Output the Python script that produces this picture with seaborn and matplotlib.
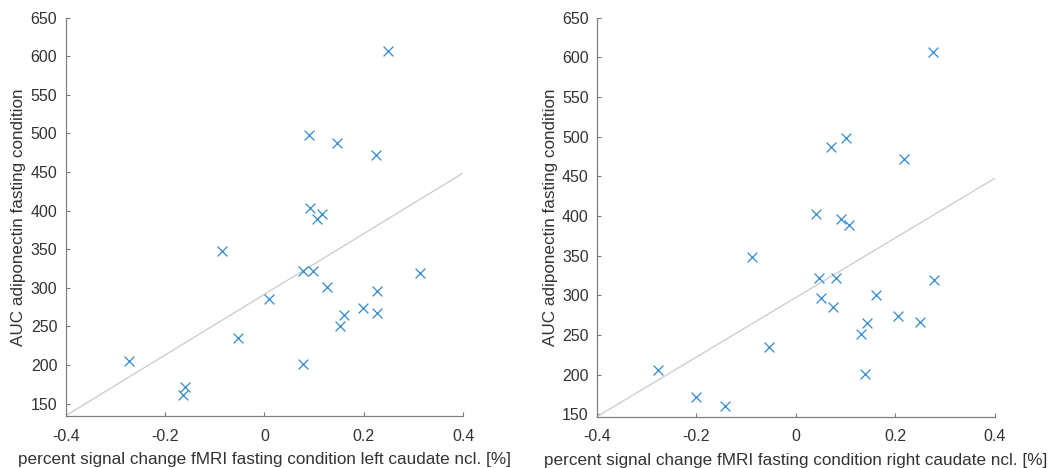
import numpy as np
import pandas as pd
import matplotlib
matplotlib.use("Agg")
import matplotlib.pyplot as plt
import seaborn as sns

# AUC adiponectin, fasting condition (same subjects in both panels)
auc_adiponectin = [607, 498, 487, 471.5, 403, 396, 389, 348, 321.5, 322, 319.5, 301,
                   296.5, 285.5, 273.5, 267, 265, 251, 234.5, 205.5, 201.5, 171.5, 161]

# percent signal change, left / right caudate ncl.
psc_left = [0.249, 0.090, 0.1465, 0.225, 0.0915, 0.1166, 0.1066, -0.085, 0.0768, 0.098,
            0.3135, 0.126, 0.2258, 0.010, 0.198, 0.2265, 0.1595, 0.1528, -0.0536,
            -0.272, 0.0785, -0.159, -0.164]
psc_right = [0.275, 0.101, 0.071, 0.217, 0.0415, 0.091, 0.107, -0.0878, 0.0476, 0.080,
             0.278, 0.1608, 0.051, 0.0757, 0.205, 0.2506, 0.1434, 0.1313, -0.0536,
             -0.278, 0.140, -0.201, -0.142]

x_ticks = [-0.4, -0.2, 0, 0.2, 0.4]
x_tick_labels = ["-0.4", "-0.2", "0", "0.2", "0.4"]
y_ticks = [150, 200, 250, 300, 350, 400, 450, 500, 550, 600, 650]

sns.set_style("ticks")
plt.rcParams['font.family'] = ['Liberation Sans', 'DejaVu Sans']

fig = plt.figure(figsize=(10.54, 4.68), dpi=100)
ax_l = fig.add_axes([0.0623, 0.111, 0.3772, 0.8515])
ax_r = fig.add_axes([0.5664, 0.1095, 0.3773, 0.853])

panels = [
    (ax_l, psc_left, "percent signal change fMRI fasting condition left caudate ncl. [%]", 134),
    (ax_r, psc_right, "percent signal change fMRI fasting condition right caudate ncl. [%]", 147),
]

for ax, xs, xlabel, ybottom in panels:
    df = pd.DataFrame({"psc": xs, "auc": auc_adiponectin})
    # least squares line across the axis range
    slope, intercept = np.polyfit(df["psc"], df["auc"], 1)
    xl = np.array([-0.4, 0.4])
    ax.plot(xl, slope * xl + intercept, color="#cfcfcf", lw=1, zorder=1)
    sns.scatterplot(data=df, x="psc", y="auc", ax=ax, marker="x", s=50,
                    color="#2f8ad4", linewidth=0.9, zorder=2)
    ax.set_xlim(-0.4, 0.4)
    ax.set_ylim(ybottom, 650)
    ax.set_xticks(x_ticks)
    ax.set_xticklabels(x_tick_labels)
    ax.set_yticks(y_ticks)
    ax.set_xlabel(xlabel, fontsize=12.3, color="#333333", labelpad=6)
    ax.set_ylabel("AUC adiponectin fasting condition", fontsize=12.3, color="#333333",
                  labelpad=3)
    ax.tick_params(direction="in", length=3, width=0.8, color="#777777",
                   labelcolor="#333333", labelsize=11.5, pad=6)
    ax.tick_params(axis="x", pad=9)
    for side in ["left", "bottom"]:
        ax.spines[side].set_color("#808080")
        ax.spines[side].set_linewidth(0.9)
    sns.despine(ax=ax)

fig.savefig("out.png", dpi=100)
